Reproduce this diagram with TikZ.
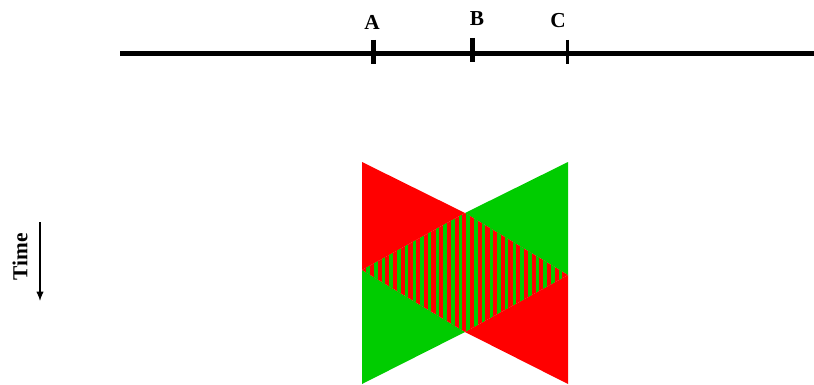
\documentclass[tikz,border=0pt]{standalone}
\usepackage{fontspec}
\setmainfont{Liberation Serif}
\usetikzlibrary{arrows.meta}

\definecolor{tred}{RGB}{255,0,0}
\definecolor{tgreen}{RGB}{0,204,0}

\begin{document}
\begin{tikzpicture}[
  x=0.75pt, y=-0.75pt,
  >=Latex,
  every node/.style={font=\fontsize{16}{19}\selectfont\bfseries},
  axisline/.style={line width=3.75pt},
  tickmark/.style={line width=3.75pt},
  thintick/.style={line width=2.25pt},
  redpart/.style={fill=tred},
  greenpart/.style={fill=tgreen},
]
  \useasboundingbox (0,0) rectangle (814,385);

  % the line with the three points
  \coordinate (lstart) at (120,54);
  \coordinate (lend) at (814,54);
  \draw[axisline] (lstart) -- (lend);

  \coordinate (atop) at (373,40);
  \coordinate (abot) at (373,64);
  \coordinate (btop) at (472,38);
  \coordinate (bbot) at (472,62);
  \coordinate (ctop) at (567,40);
  \coordinate (cbot) at (567,64);
  \draw[tickmark] (atop) -- (abot);
  \draw[tickmark] (btop) -- (bbot);
  \draw[thintick] (ctop) -- (cbot);

  \node (la) at (372,22) {A};
  \node (lb) at (477,19) {B};
  \node (lc) at (558,21) {C};

  % time axis
  \node[rotate=90] (timelbl) at (20,257) {Time};
  \coordinate (tstart) at (40,222);
  \coordinate (tend) at (40,301);
  \draw[->, line width=0.9pt, >={Latex[length=7pt,width=5.5pt]}] (tstart) -- (tend);

  % corners of the shapes
  \coordinate (tl) at (362,162);
  \coordinate (tr) at (568,162);
  \coordinate (ml) at (362,270);
  \coordinate (mr) at (568,275);
  \coordinate (bl) at (362,384);
  \coordinate (br) at (568,384);
  \coordinate (ct) at (465,213);
  \coordinate (cb) at (465,332);

  \fill[redpart] (tl) -- (ct) -- (ml) -- cycle;
  \fill[greenpart] (tr) -- (mr) -- (ct) -- cycle;
  \fill[greenpart] (ml) -- (cb) -- (bl) -- cycle;
  \fill[redpart] (mr) -- (br) -- (cb) -- cycle;

  % overlap, striped
  \begin{scope}
    \clip (ml) -- (ct) -- (mr) -- (cb) -- cycle;
    \fill[redpart] (ml) -- (ct) -- (mr) -- (cb) -- cycle;
    \foreach \k in {0,...,27}
      \fill[greenpart] ({366.3+7.7*\k},210) rectangle ++(3.5,126);
  \end{scope}
\end{tikzpicture}
\end{document}
